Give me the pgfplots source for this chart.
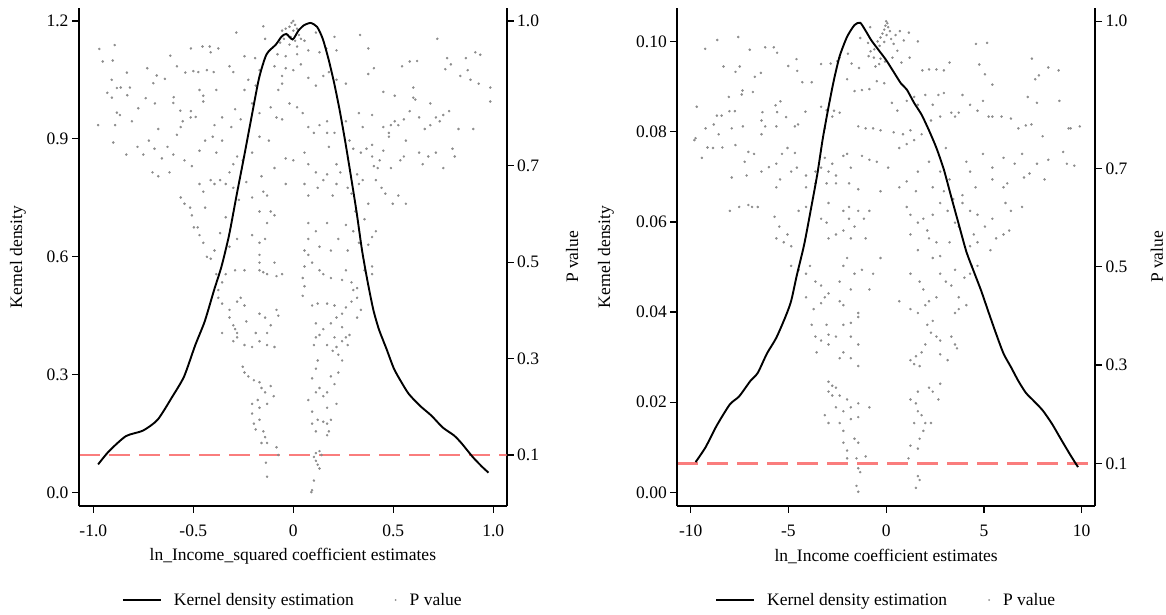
\documentclass[border=0pt]{standalone}
\usepackage{fontspec}
\setmainfont{Liberation Serif}
\usepackage{pgfplots}
\usepackage{pgfplotstable}
\pgfplotsset{compat=1.18}

\definecolor{dotgray}{RGB}{140,140,140}
\definecolor{pred}{RGB}{250,125,125}
\newcommand{\fs}{\fontsize{17.5}{21}\selectfont}

% kernel density, ln_Income_squared
\pgfplotstableread{
x d
-0.976 0.071
-0.921 0.105
-0.837 0.143
-0.752 0.157
-0.678 0.185
-0.603 0.245
-0.546 0.295
-0.490 0.375
-0.443 0.435
-0.396 0.515
-0.359 0.575
-0.321 0.655
-0.284 0.755
-0.246 0.855
-0.209 0.955
-0.171 1.055
-0.134 1.115
-0.087 1.140
-0.059 1.160
-0.035 1.167
-0.003 1.153
0.025 1.175
0.053 1.189
0.087 1.195
0.119 1.185
0.147 1.155
0.175 1.105
0.203 1.045
0.231 0.975
0.259 0.895
0.288 0.805
0.316 0.715
0.344 0.615
0.372 0.535
0.400 0.465
0.428 0.415
0.466 0.365
0.503 0.315
0.541 0.280
0.578 0.250
0.634 0.220
0.691 0.195
0.747 0.165
0.803 0.145
0.841 0.125
0.897 0.090
0.944 0.065
0.976 0.050
}\kdl

% kernel density, ln_Income
\pgfplotstableread{
x d
-9.75 0.0067
-9.24 0.0100
-8.67 0.0148
-8.00 0.0195
-7.52 0.0213
-6.95 0.0247
-6.57 0.0265
-6.10 0.0308
-5.62 0.0343
-5.14 0.0391
-4.86 0.0425
-4.57 0.0482
-4.19 0.0551
-3.81 0.0638
-3.52 0.0707
-3.24 0.0786
-2.95 0.0855
-2.67 0.0916
-2.38 0.0968
-2.00 0.1011
-1.62 0.1037
-1.33 0.1042
-1.05 0.1024
-0.76 0.1003
-0.38 0.0981
0.00 0.0959
0.38 0.0933
0.76 0.0907
1.05 0.0894
1.43 0.0864
1.81 0.0838
2.19 0.0803
2.57 0.0764
2.95 0.0716
3.33 0.0655
3.71 0.0595
4.10 0.0534
4.48 0.0490
4.86 0.0447
5.24 0.0399
5.62 0.0352
6.00 0.0308
6.38 0.0278
6.76 0.0247
7.14 0.0221
7.52 0.0204
8.00 0.0182
8.48 0.0152
8.95 0.0117
9.43 0.0082
9.81 0.0056
}\kdr

% p values, ln_Income_squared
\pgfplotstableread{
x p
-0.970 0.942
-0.893 0.950
-0.953 0.916
-0.903 0.918
-0.832 0.893
-0.908 0.878
-0.730 0.902
-0.683 0.887
-0.642 0.880
-0.615 0.928
-0.582 0.906
-0.540 0.893
-0.500 0.896
-0.475 0.894
-0.512 0.943
-0.700 0.871
-0.882 0.861
-0.863 0.862
-0.817 0.862
-0.930 0.851
-0.907 0.841
-0.830 0.846
-0.738 0.840
-0.692 0.829
-0.598 0.842
-0.600 0.830
-0.775 0.819
-0.565 0.814
-0.512 0.813
-0.882 0.810
-0.867 0.805
-0.513 0.800
-0.488 0.801
0.000 1.000
-0.009 0.996
0.009 0.992
-0.019 0.988
-0.038 0.984
0.019 0.984
0.000 0.980
-0.056 0.980
-0.028 0.971
0.028 0.971
-0.013 0.967
0.038 0.963
-0.047 0.963
0.009 0.959
-0.066 0.955
-0.019 0.951
0.019 0.947
0.056 0.959
-0.150 0.989
-0.285 0.976
0.206 0.967
0.113 0.976
0.334 0.971
0.720 0.963
-0.454 0.947
-0.418 0.947
-0.375 0.943
-0.413 0.935
-0.244 0.927
-0.191 0.923
-0.141 0.963
-0.079 0.931
-0.038 0.927
0.019 0.931
0.075 0.939
0.131 0.935
0.165 0.943
0.216 0.939
0.375 0.943
0.910 0.935
0.863 0.923
0.935 0.930
-0.432 0.898
-0.398 0.894
-0.319 0.906
-0.300 0.894
-0.225 0.878
-0.169 0.898
-0.094 0.906
-0.038 0.902
-0.056 0.886
-0.056 0.870
-0.075 0.857
0.000 0.898
0.038 0.910
0.075 0.882
0.113 0.866
0.150 0.886
0.178 0.894
0.216 0.878
0.263 0.870
0.375 0.890
0.403 0.902
0.544 0.906
0.582 0.916
0.619 0.917
0.769 0.923
0.788 0.910
0.760 0.900
0.835 0.886
0.872 0.898
0.886 0.878
0.927 0.870
0.985 0.862
0.600 0.862
0.450 0.853
0.507 0.845
-0.469 0.857
-0.385 0.857
-0.450 0.845
-0.244 0.857
-0.188 0.866
-0.450 0.833
-0.394 0.784
-0.356 0.800
-0.310 0.780
-0.291 0.817
-0.263 0.796
-0.206 0.829
-0.169 0.809
-0.113 0.821
-0.056 0.796
-0.084 0.800
0.019 0.821
-0.019 0.829
0.047 0.809
0.075 0.780
0.103 0.768
0.131 0.784
0.169 0.792
0.206 0.768
0.263 0.792
0.328 0.809
0.347 0.780
0.394 0.805
0.450 0.780
0.478 0.768
0.525 0.784
0.553 0.796
0.582 0.813
0.610 0.837
0.685 0.829
0.713 0.800
0.750 0.805
0.779 0.813
0.826 0.776
0.900 0.776
0.685 0.784
0.657 0.776
0.629 0.800
0.985 0.833
0.600 0.841
0.732 0.792
-0.807 0.792
-0.891 0.784
-0.976 0.784
-0.563 0.780
-0.553 0.792
-0.900 0.748
-0.835 0.723
-0.779 0.739
-0.750 0.723
-0.722 0.752
-0.694 0.735
-0.675 0.776
-0.657 0.715
-0.629 0.739
-0.600 0.723
-0.582 0.764
-0.544 0.711
-0.507 0.699
-0.469 0.731
-0.441 0.752
-0.403 0.760
-0.385 0.727
-0.356 0.752
-0.300 0.703
-0.281 0.719
-0.253 0.711
-0.206 0.727
-0.169 0.760
-0.122 0.752
-0.094 0.695
-0.038 0.715
0.000 0.711
0.056 0.727
0.075 0.703
0.113 0.686
0.169 0.768
0.178 0.739
0.216 0.703
0.281 0.752
0.300 0.735
0.338 0.727
0.366 0.735
0.394 0.719
0.432 0.711
0.450 0.731
0.488 0.695
0.535 0.711
0.553 0.719
0.563 0.752
0.629 0.727
0.647 0.703
0.675 0.719
0.713 0.727
0.750 0.695
0.796 0.735
0.807 0.719
0.478 0.760
0.488 0.784
0.507 0.792
0.394 0.743
-0.704 0.686
-0.619 0.686
-0.675 0.678
-0.563 0.634
-0.544 0.621
-0.516 0.613
-0.469 0.662
-0.450 0.646
-0.441 0.613
-0.413 0.670
-0.394 0.662
-0.366 0.670
-0.338 0.662
-0.319 0.686
-0.300 0.654
-0.272 0.629
-0.235 0.666
-0.206 0.634
-0.150 0.646
-0.159 0.678
-0.131 0.638
-0.113 0.605
-0.038 0.662
0.056 0.662
0.075 0.638
0.122 0.654
0.150 0.670
0.169 0.682
0.197 0.638
0.216 0.662
0.235 0.686
0.272 0.654
0.291 0.642
0.328 0.662
0.347 0.670
0.375 0.621
0.413 0.670
0.441 0.654
0.460 0.642
0.497 0.621
0.525 0.638
0.563 0.621
0.422 0.695
0.403 0.699
0.319 0.682
0.310 0.605
-0.169 0.605
-0.507 0.597
-0.497 0.572
-0.478 0.572
-0.469 0.556
-0.450 0.540
-0.432 0.511
-0.413 0.507
-0.394 0.524
-0.366 0.560
-0.338 0.593
-0.319 0.532
-0.281 0.548
-0.206 0.556
-0.169 0.540
-0.141 0.548
-0.169 0.515
-0.131 0.581
-0.094 0.597
0.075 0.581
0.075 0.548
0.113 0.564
0.131 0.532
0.169 0.581
0.188 0.524
0.225 0.548
0.263 0.577
0.272 0.524
0.300 0.564
0.328 0.540
0.356 0.589
0.375 0.536
0.394 0.552
0.413 0.564
0.075 0.515
0.056 0.524
-0.385 0.475
-0.375 0.442
-0.356 0.458
-0.338 0.475
-0.291 0.483
-0.244 0.483
-0.169 0.499
-0.169 0.483
-0.150 0.479
-0.131 0.475
-0.094 0.499
-0.084 0.471
-0.056 0.475
0.056 0.491
0.094 0.499
0.131 0.483
0.150 0.475
0.188 0.467
0.244 0.463
0.263 0.483
0.291 0.458
0.300 0.442
0.319 0.446
0.356 0.483
0.394 0.491
0.394 0.475
0.047 0.467
0.056 0.450
0.047 0.430
-0.375 0.426
-0.356 0.414
-0.319 0.401
-0.281 0.418
-0.263 0.426
-0.244 0.410
-0.169 0.393
-0.141 0.385
-0.113 0.369
-0.084 0.401
-0.075 0.389
-0.319 0.385
-0.300 0.369
-0.281 0.353
-0.235 0.377
-0.188 0.353
-0.131 0.353
0.094 0.410
0.122 0.414
0.169 0.414
0.206 0.410
0.244 0.393
0.263 0.406
0.291 0.418
0.319 0.385
0.338 0.401
0.113 0.373
0.150 0.361
0.188 0.373
0.216 0.385
0.244 0.365
0.319 0.426
-0.300 0.336
-0.281 0.344
-0.244 0.328
-0.206 0.324
-0.169 0.336
-0.131 0.328
-0.094 0.324
-0.356 0.353
-0.291 0.361
0.113 0.344
0.169 0.328
0.197 0.316
0.216 0.324
0.225 0.308
0.244 0.336
0.263 0.344
0.281 0.349
0.272 0.328
0.206 0.344
0.131 0.349
0.103 0.328
0.244 0.296
-0.253 0.283
-0.244 0.271
-0.225 0.263
-0.197 0.255
-0.169 0.251
-0.159 0.239
-0.141 0.230
-0.113 0.243
-0.098 0.222
-0.131 0.206
-0.169 0.198
-0.178 0.214
-0.206 0.206
0.122 0.296
0.113 0.279
0.094 0.259
0.075 0.214
0.113 0.230
0.131 0.239
0.150 0.222
0.169 0.230
0.188 0.263
0.206 0.247
0.225 0.271
0.216 0.206
0.169 0.198
0.094 0.190
-0.206 0.186
-0.197 0.165
-0.188 0.153
-0.169 0.173
-0.150 0.149
-0.141 0.137
-0.131 0.125
-0.159 0.125
-0.084 0.116
0.122 0.173
0.150 0.169
0.169 0.165
0.178 0.149
0.169 0.141
0.113 0.149
0.188 0.173
0.094 0.165
-0.137 0.084
-0.131 0.055
-0.075 0.100
0.103 0.096
0.113 0.088
0.122 0.080
0.131 0.072
0.113 0.104
0.131 0.108
0.141 0.100
0.103 0.047
0.094 0.027
0.090 0.023
}\scl

% p values, ln_Income
\pgfplotstableread{
x p
-8.64 0.962
-7.57 0.968
-9.26 0.944
-6.98 0.942
-6.19 0.947
-5.75 0.947
-5.58 0.936
-4.59 0.923
-4.55 0.899
-5.01 0.909
-8.32 0.908
-7.49 0.908
-7.71 0.897
-6.72 0.887
-6.41 0.895
-9.69 0.826
-8.05 0.846
-7.39 0.851
-7.35 0.859
-6.82 0.856
-5.66 0.829
-5.41 0.837
-8.66 0.808
-8.42 0.808
-8.02 0.817
-7.74 0.817
-6.33 0.815
-5.58 0.815
-5.12 0.805
0.00 1.000
0.06 0.996
-0.04 0.991
0.10 0.988
-0.10 0.983
0.19 0.980
-0.19 0.975
0.02 0.972
-0.29 0.967
0.25 0.964
-0.44 0.959
-0.10 0.958
0.38 0.954
-0.34 0.950
-0.61 0.943
-0.80 0.939
0.48 0.972
0.70 0.980
1.16 0.977
0.90 0.961
1.62 0.959
-0.82 0.988
-1.33 0.966
-0.93 0.956
-0.63 0.926
-0.90 0.929
-0.29 0.924
-0.06 0.918
-0.36 0.913
-0.55 0.908
0.32 0.926
0.57 0.940
0.78 0.916
1.20 0.926
-1.39 0.905
-1.77 0.914
-1.96 0.934
-2.38 0.926
-3.33 0.913
-2.84 0.914
-2.50 0.919
4.59 0.954
5.16 0.956
3.24 0.916
2.95 0.900
2.57 0.902
2.19 0.902
1.85 0.900
7.45 0.924
8.82 0.900
8.29 0.906
4.76 0.912
5.05 0.892
5.43 0.871
7.81 0.890
7.62 0.882
-6.38 0.798
-8.82 0.790
-9.24 0.782
-8.57 0.770
-7.90 0.782
-7.33 0.786
-6.19 0.786
-5.62 0.786
-4.67 0.786
-4.51 0.790
-4.13 0.816
-3.81 0.876
-4.29 0.876
-3.33 0.826
-3.05 0.819
-2.67 0.818
-2.38 0.814
-2.00 0.882
-1.62 0.858
-1.24 0.860
-0.86 0.862
-0.48 0.878
-0.10 0.874
0.29 0.834
0.57 0.818
1.05 0.838
1.43 0.846
1.62 0.830
2.00 0.850
2.38 0.830
2.67 0.850
2.95 0.854
3.33 0.814
3.90 0.850
4.29 0.830
4.67 0.818
4.95 0.838
5.43 0.806
5.90 0.806
6.38 0.802
6.76 0.782
7.14 0.788
7.43 0.790
7.71 0.834
8.00 0.766
8.86 0.838
9.33 0.782
9.90 0.786
9.43 0.782
-9.81 0.758
-3.14 0.782
-2.76 0.806
-1.43 0.786
-1.05 0.782
-0.67 0.782
-0.29 0.778
0.38 0.774
0.86 0.770
1.24 0.778
1.81 0.770
2.29 0.798
2.76 0.806
3.52 0.806
3.71 0.814
5.24 0.806
7.24 0.846
-9.75 0.762
-9.43 0.722
-9.14 0.743
-8.86 0.742
-8.38 0.743
-7.90 0.682
-7.71 0.748
-7.24 0.714
-7.05 0.734
-6.76 0.730
-6.38 0.770
-6.00 0.703
-5.62 0.710
-5.33 0.730
-5.05 0.742
-4.67 0.732
-4.57 0.702
-4.10 0.686
-3.62 0.694
-3.33 0.702
-3.14 0.722
-2.76 0.710
-2.19 0.726
-2.00 0.730
-1.81 0.702
-1.24 0.726
-0.86 0.718
-2.57 0.686
-2.95 0.694
-1.90 0.670
-1.43 0.658
-0.48 0.714
0.10 0.702
0.67 0.742
1.05 0.750
1.43 0.758
1.62 0.694
2.19 0.714
2.76 0.694
3.05 0.742
3.24 0.678
4.10 0.714
4.29 0.694
4.95 0.730
5.43 0.702
6.00 0.722
6.57 0.710
6.95 0.730
7.71 0.710
8.29 0.718
9.24 0.710
9.62 0.706
9.05 0.734
8.10 0.678
7.33 0.690
7.05 0.682
6.19 0.670
6.00 0.662
5.43 0.678
4.57 0.662
3.90 0.646
2.95 0.654
2.38 0.662
1.52 0.654
1.05 0.674
0.67 0.662
-0.29 0.654
-2.57 0.670
-3.05 0.670
-3.62 0.670
-4.10 0.662
-4.86 0.694
-5.43 0.678
-5.62 0.662
-6.38 0.694
-7.14 0.686
-7.52 0.622
-7.05 0.626
-6.57 0.622
-6.86 0.622
-8.00 0.614
6.95 0.622
-5.71 0.602
-5.47 0.582
-5.05 0.566
-4.86 0.542
-5.24 0.550
-5.62 0.558
-4.48 0.614
-4.10 0.622
-3.33 0.598
-3.05 0.590
-2.95 0.558
-2.19 0.614
-1.90 0.622
-1.43 0.614
-0.86 0.614
-1.14 0.598
-1.90 0.598
-2.19 0.574
-2.57 0.566
-1.81 0.558
-1.62 0.582
-1.05 0.558
-2.95 0.630
1.05 0.622
1.24 0.606
1.62 0.590
1.90 0.598
2.10 0.574
2.38 0.606
2.76 0.630
3.14 0.614
3.43 0.638
3.71 0.582
3.90 0.630
4.29 0.614
4.67 0.606
4.48 0.566
5.05 0.582
5.43 0.598
6.00 0.566
6.29 0.574
6.38 0.614
6.10 0.630
5.62 0.558
5.33 0.534
4.67 0.550
4.29 0.542
3.52 0.590
3.24 0.550
2.57 0.550
2.19 0.558
1.62 0.534
1.24 0.566
2.76 0.522
-4.86 0.502
-4.48 0.494
-4.10 0.486
-3.90 0.502
-3.62 0.470
-3.33 0.462
-3.14 0.438
-2.95 0.446
-2.38 0.470
-2.19 0.502
-2.00 0.518
-1.62 0.486
-1.24 0.494
-1.81 0.454
-0.86 0.454
-0.67 0.486
-0.29 0.518
-4.10 0.438
-3.71 0.414
-3.33 0.426
-2.38 0.430
-2.19 0.422
-1.43 0.406
0.67 0.430
1.24 0.486
1.71 0.470
1.90 0.454
2.19 0.430
2.57 0.438
3.05 0.470
3.33 0.462
3.71 0.438
4.00 0.478
4.29 0.486
4.38 0.502
4.67 0.502
3.52 0.494
2.38 0.518
2.76 0.486
4.10 0.422
3.71 0.414
3.52 0.406
1.24 0.414
1.62 0.406
2.00 0.422
-3.81 0.382
-3.62 0.358
-3.33 0.350
-3.05 0.382
-2.95 0.362
-2.57 0.358
-2.19 0.382
-1.81 0.386
-1.43 0.398
-1.81 0.358
-1.43 0.342
-2.19 0.326
-3.56 0.326
-2.95 0.342
-2.38 0.314
-1.81 0.314
-1.43 0.298
2.10 0.382
2.29 0.366
2.57 0.358
2.76 0.350
3.33 0.358
3.52 0.342
3.62 0.334
2.38 0.390
2.00 0.342
1.81 0.326
2.76 0.322
3.14 0.310
1.24 0.310
1.52 0.318
1.43 0.302
1.71 0.298
-2.95 0.266
-2.76 0.258
-2.57 0.254
-2.95 0.246
-2.76 0.238
-2.38 0.238
-2.00 0.230
-2.57 0.214
-2.19 0.206
-1.81 0.214
-1.43 0.222
-3.14 0.198
-2.95 0.182
-2.38 0.182
-2.19 0.166
-1.81 0.190
-1.43 0.194
-0.86 0.214
1.24 0.230
1.62 0.246
2.19 0.254
2.38 0.246
2.67 0.230
2.76 0.262
1.62 0.206
1.52 0.222
1.81 0.198
2.00 0.182
2.29 0.182
1.90 0.166
1.43 0.182
-2.19 0.142
-2.00 0.126
-2.00 0.110
-1.62 0.150
-1.43 0.142
-1.52 0.110
-1.05 0.114
-1.43 0.090
-1.33 0.082
-1.52 0.054
-1.43 0.042
1.24 0.136
1.62 0.130
1.71 0.150
1.14 0.110
1.62 0.074
1.52 0.050
1.71 0.066
}\scr

\pgfplotsset{
  panel/.style={
    scale only axis, height=497.4pt, anchor=south west,
    axis line style={line width=2pt},
    major tick style={line width=1.2pt, black},
    major tick length=7pt, tick align=outside,
    tick label style={font=\fs},
    label style={font=\fs},
  },
  pside/.style={
    axis x line=none, axis y line*=right,
    ytick={0.1,0.3,0.5,0.7,1.0},
    yticklabels={0.1,0.3,0.5,0.7,1.0},
    ylabel={P value},
    every axis y label/.style={at={(axis description cs:#1,0.5)}, rotate=90, anchor=center, inner sep=1pt},
  },
  dside/.style={
    axis x line*=bottom, axis y line*=left,
    every axis y label/.style={at={(axis description cs:#1,0.5)}, rotate=90, anchor=center},
    ylabel={Kernel density},
    every axis x label/.style={at={(axis description cs:0.5,-0.1011)}, anchor=center},
    xticklabel style={yshift=-9pt},
    legend style={at={(axis description cs:0.5,-0.1896)}, anchor=center,
      draw=none, fill=none, legend columns=2, font=\fs,
      /tikz/every even column/.append style={column sep=38pt}},
    legend image code/.code={\draw[##1] (0pt,0pt) -- (38pt,0pt); \path[draw=none] (0pt,0pt) -- (49pt,0pt);},
  },
  dotlegend/.style={legend image code/.code={\path[draw=none] (0pt,0pt) -- (14pt,0pt); \fill[dotgray, draw=none] (2pt,0pt) circle (1pt);}},
  pdots/.style={only marks, mark=*, mark size=1.05pt, dotgray},
  pline/.style={pred, line width=2.8pt, dash pattern=on 21pt off 9pt},
  kcurve/.style={black, line width=1.9pt, smooth, tension=0.4},
}

\begin{document}
\begin{tikzpicture}[font=\fs]
\useasboundingbox (0,0) rectangle (1166pt,615pt);

% ---- left panel: ln_Income_squared
\begin{axis}[panel, pside=1.1527, at={(79pt,109.3pt)}, width=427.7pt,
  xmin=-1.0715, xmax=1.067, ymin=-0.0051, ymax=1.0263]
\addplot[pdots] table {\scl};
\addplot[pline] coordinates {(-1.0715,0.1) (1.067,0.1)};
\end{axis}
\begin{axis}[panel, dside=-0.1426, at={(79pt,109.3pt)}, width=427.7pt,
  xmin=-1.0715, xmax=1.067, ymin=-0.0341, ymax=1.2323,
  xtick={-1,-0.5,0,0.5,1}, xticklabels={-1.0,-0.5,0,0.5,1.0},
  ytick={0,0.3,0.6,0.9,1.2}, yticklabels={0.0,0.3,0.6,0.9,1.2},
  xlabel={ln\_Income\_squared coefficient estimates}]
\addplot[kcurve] table {\kdl};
\addlegendentry{Kernel density estimation}
\addlegendimage{pdots, dotlegend}
\addlegendentry{P value}
\end{axis}

% ---- right panel: ln_Income
\begin{axis}[panel, pside=1.1484, at={(677.3pt,109.3pt)}, width=417.7pt,
  xmin=-10.685, xmax=10.68, ymin=0.0137, ymax=1.0265]
\addplot[pdots] table {\scr};
\addplot[pline] coordinates {(-10.685,0.1) (10.68,0.1)};
\end{axis}
\begin{axis}[panel, dside=-0.1707, at={(677.3pt,109.3pt)}, width=417.7pt,
  xmin=-10.685, xmax=10.68, ymin=-0.00297, ymax=0.10741,
  xtick={-10,-5,0,5,10}, xticklabels={-10,-5,0,5,10},
  ytick={0,0.02,0.04,0.06,0.08,0.1}, yticklabels={0.00,0.02,0.04,0.06,0.08,0.10},
  xlabel={ln\_Income coefficient estimates}]
\addplot[kcurve] table {\kdr};
\addlegendentry{Kernel density estimation}
\addlegendimage{pdots, dotlegend}
\addlegendentry{P value}
\end{axis}
\end{tikzpicture}
\end{document}
